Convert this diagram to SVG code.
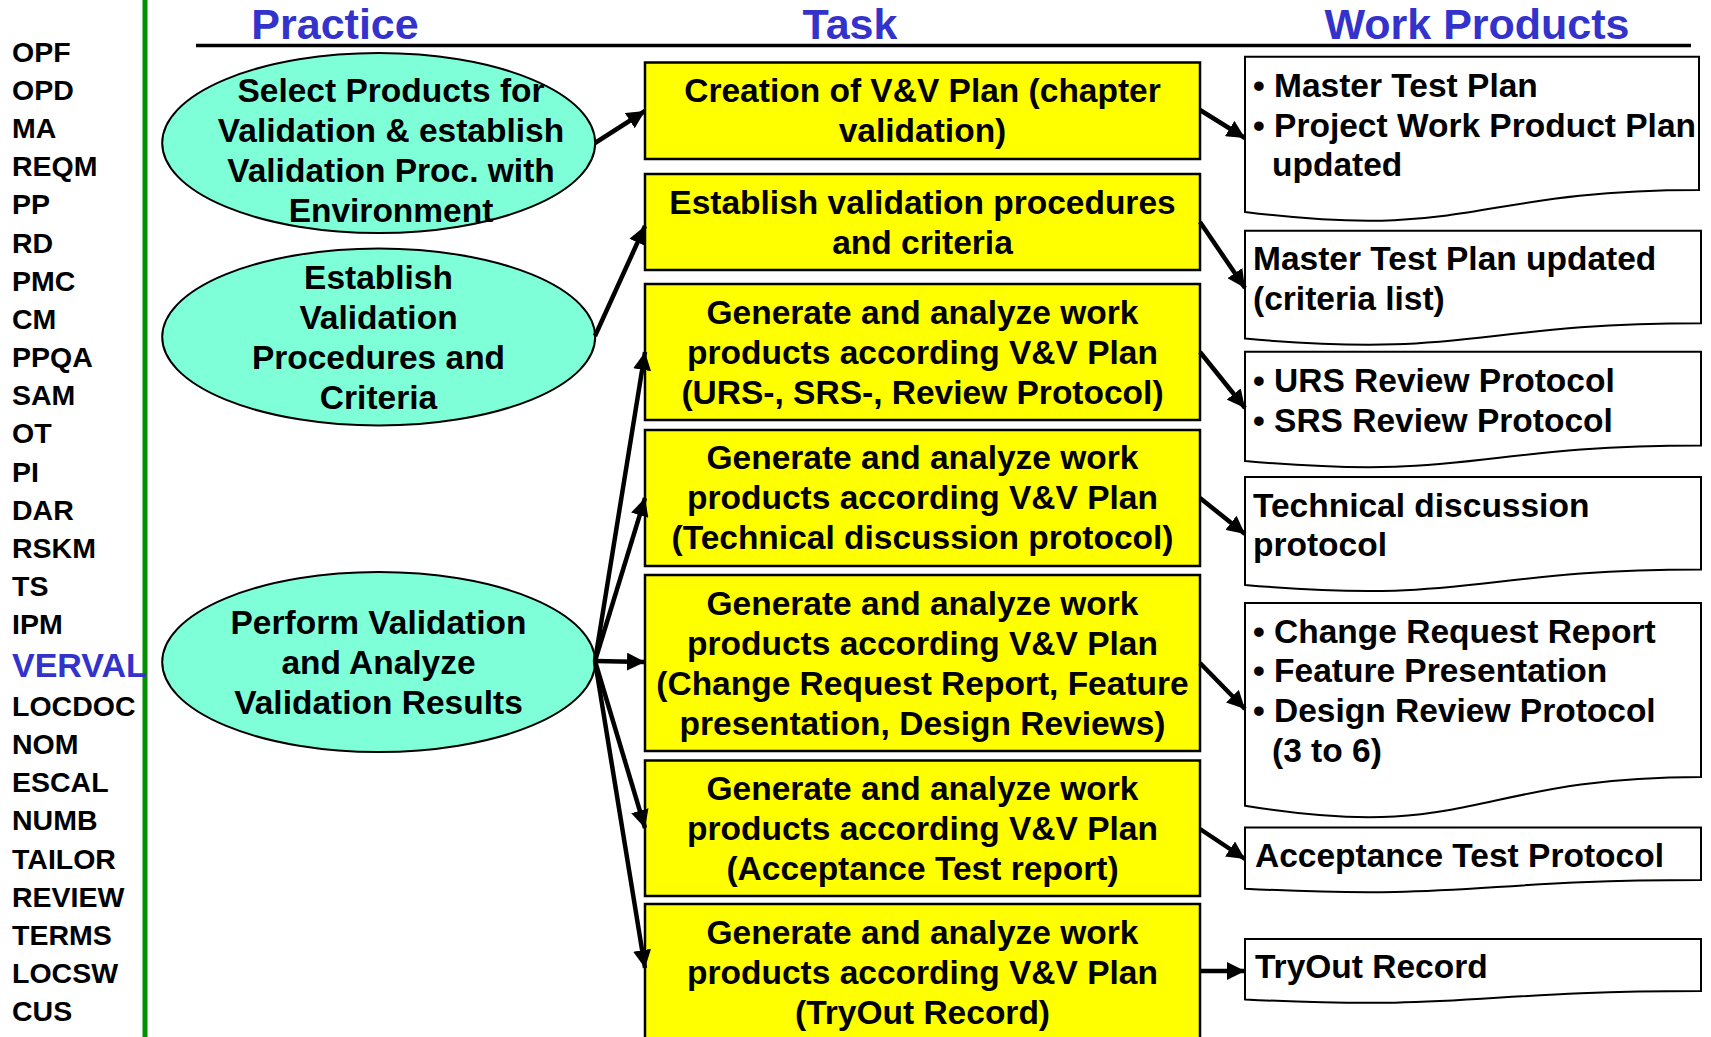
<svg xmlns="http://www.w3.org/2000/svg" width="1711" height="1037" viewBox="0 0 1711 1037">
<defs>
<style>
text{font-family:"Liberation Sans",Arial,sans-serif;font-weight:bold;}
.hdr{font-size:43px;fill:#3333cc;text-anchor:middle;}
.lst{font-size:28.5px;fill:#000;}
.cur{font-size:34px;fill:#3333cc;}
.t{font-size:33.5px;fill:#000;text-anchor:middle;}
.w{font-size:33.5px;fill:#000;}
.ell{fill:#7fffd8;stroke:#000;stroke-width:2;}
.box{fill:#ffff00;stroke:#000;stroke-width:2.5;}
.doc{fill:#fff;stroke:#000;stroke-width:2;}
.con{stroke:#000;stroke-width:4.5;fill:none;marker-end:url(#ah);}
</style>
<marker id="ah" viewBox="0 0 18 18" markerUnits="userSpaceOnUse" markerWidth="18" markerHeight="18" refX="18" refY="9" orient="auto">
<path d="M0,0 L18,9 L0,18 Z" fill="#000"/>
</marker>
</defs>
<rect x="0" y="0" width="1711" height="1037" fill="#fff"/>

<g id="sidebar">
<line x1="145" y1="0" x2="145" y2="1037" stroke="#009000" stroke-width="5"/>
<text class="lst" x="12" y="62">OPF</text>
<text class="lst" x="12" y="100">OPD</text>
<text class="lst" x="12" y="138">MA</text>
<text class="lst" x="12" y="176">REQM</text>
<text class="lst" x="12" y="214">PP</text>
<text class="lst" x="12" y="252.5">RD</text>
<text class="lst" x="12" y="290.5">PMC</text>
<text class="lst" x="12" y="329">CM</text>
<text class="lst" x="12" y="367">PPQA</text>
<text class="lst" x="12" y="405">SAM</text>
<text class="lst" x="12" y="443">OT</text>
<text class="lst" x="12" y="481.5">PI</text>
<text class="lst" x="12" y="519.5">DAR</text>
<text class="lst" x="12" y="557.5">RSKM</text>
<text class="lst" x="12" y="596">TS</text>
<text class="lst" x="12" y="634">IPM</text>
<text class="cur" x="12" y="676.5">VERVAL</text>
<text class="lst" x="12" y="716">LOCDOC</text>
<text class="lst" x="12" y="754">NOM</text>
<text class="lst" x="12" y="792">ESCAL</text>
<text class="lst" x="12" y="830">NUMB</text>
<text class="lst" x="12" y="868.5">TAILOR</text>
<text class="lst" x="12" y="906.5">REVIEW</text>
<text class="lst" x="12" y="945">TERMS</text>
<text class="lst" x="12" y="983">LOCSW</text>
<text class="lst" x="12" y="1021">CUS</text>
</g>

<g id="headers">
<text class="hdr" x="335" y="39">Practice</text>
<text class="hdr" x="850" y="39">Task</text>
<text class="hdr" x="1477" y="39">Work Products</text>
<line x1="196" y1="45.5" x2="1691" y2="45.5" stroke="#000" stroke-width="3.5"/>
</g>

<g id="practice1">
<ellipse class="ell" cx="378.7" cy="143" rx="216.5" ry="90"/>
<text class="t" x="391" y="101.5">Select Products for</text>
<text class="t" x="391" y="141.5">Validation &amp; establish</text>
<text class="t" x="391" y="181.5">Validation Proc. with</text>
<text class="t" x="391" y="221.5">Environment</text>
</g>
<g id="practice2">
<ellipse class="ell" cx="378.7" cy="337" rx="216.5" ry="88.5"/>
<text class="t" x="378.5" y="288.5">Establish</text>
<text class="t" x="378.5" y="328.5">Validation</text>
<text class="t" x="378.5" y="368.5">Procedures and</text>
<text class="t" x="378.5" y="408.5">Criteria</text>
</g>
<g id="practice3">
<ellipse class="ell" cx="378.7" cy="662" rx="216.5" ry="90"/>
<text class="t" x="378.5" y="634">Perform Validation</text>
<text class="t" x="378.5" y="674">and Analyze</text>
<text class="t" x="378.5" y="713.5">Validation Results</text>
</g>

<g id="task1">
<rect class="box" x="645" y="62.5" width="555" height="96.5"/>
<text class="t" x="922.5" y="102">Creation of V&amp;V Plan (chapter</text>
<text class="t" x="922.5" y="142">validation)</text>
</g>
<g id="task2">
<rect class="box" x="645" y="174" width="555" height="96"/>
<text class="t" x="922.5" y="213.5">Establish validation procedures</text>
<text class="t" x="922.5" y="253.5">and criteria</text>
</g>
<g id="task3">
<rect class="box" x="645" y="284" width="555" height="136"/>
<text class="t" x="922.5" y="323.5">Generate and analyze work</text>
<text class="t" x="922.5" y="363.5">products according V&amp;V Plan</text>
<text class="t" x="922.5" y="403.5">(URS-, SRS-, Review Protocol)</text>
</g>
<g id="task4">
<rect class="box" x="645" y="430" width="555" height="136"/>
<text class="t" x="922.5" y="469">Generate and analyze work</text>
<text class="t" x="922.5" y="509">products according V&amp;V Plan</text>
<text class="t" x="922.5" y="549">(Technical discussion protocol)</text>
</g>
<g id="task5">
<rect class="box" x="645" y="575" width="555" height="176"/>
<text class="t" x="922.5" y="615">Generate and analyze work</text>
<text class="t" x="922.5" y="655">products according V&amp;V Plan</text>
<text class="t" x="922.5" y="695">(Change Request Report, Feature</text>
<text class="t" x="922.5" y="735">presentation, Design Reviews)</text>
</g>
<g id="task6">
<rect class="box" x="645" y="760.5" width="555" height="135.5"/>
<text class="t" x="922.5" y="800">Generate and analyze work</text>
<text class="t" x="922.5" y="840">products according V&amp;V Plan</text>
<text class="t" x="922.5" y="880">(Acceptance Test report)</text>
</g>
<g id="task7">
<rect class="box" x="645" y="904" width="555" height="140"/>
<text class="t" x="922.5" y="944">Generate and analyze work</text>
<text class="t" x="922.5" y="984">products according V&amp;V Plan</text>
<text class="t" x="922.5" y="1024">(TryOut Record)</text>
</g>

<g id="wp1">
<path class="doc" d="M1245,56.7 H1699 V190 C1472,190 1472,240.8 1245,211.9 Z"/>
<text class="w" x="1253" y="96.5">• Master Test Plan</text>
<text class="w" x="1253" y="136.5">• Project Work Product Plan</text>
<text class="w" x="1272" y="176">updated</text>
</g>
<g id="wp2">
<path class="doc" d="M1245,230.7 H1701 V323.3 C1473,323.3 1473,358.6 1245,338.6 Z"/>
<text class="w" x="1253" y="270">Master Test Plan updated</text>
<text class="w" x="1253" y="309.5">(criteria list)</text>
</g>
<g id="wp3">
<path class="doc" d="M1245,351.7 H1701 V445.5 C1473,445.5 1473,481.3 1245,461 Z"/>
<text class="w" x="1253" y="392">• URS Review Protocol</text>
<text class="w" x="1253" y="432">• SRS Review Protocol</text>
</g>
<g id="wp4">
<path class="doc" d="M1245,477 H1701 V569.6 C1473,569.6 1473,604.9 1245,584.9 Z"/>
<text class="w" x="1253" y="516.5">Technical discussion</text>
<text class="w" x="1253" y="556">protocol</text>
</g>
<g id="wp5">
<path class="doc" d="M1245,603 H1701 V777 C1473,777 1473,843.3 1245,805.7 Z"/>
<text class="w" x="1253" y="642.5">• Change Request Report</text>
<text class="w" x="1253" y="682">• Feature Presentation</text>
<text class="w" x="1253" y="722">• Design Review Protocol</text>
<text class="w" x="1272" y="762">(3 to 6)</text>
</g>
<g id="wp6">
<path class="doc" d="M1245,827.5 H1701 V880 C1473,880 1473,900 1245,888.7 Z"/>
<text class="w" x="1255" y="867">Acceptance Test Protocol</text>
</g>
<g id="wp7">
<path class="doc" d="M1245,939 H1701 V990.9 C1473,990.9 1473,1010.7 1245,999.4 Z"/>
<text class="w" x="1255" y="977.5">TryOut Record</text>
</g>

<g id="connectors">
<line class="con" x1="595" y1="143" x2="645" y2="111"/>
<line class="con" x1="595" y1="336" x2="645" y2="226"/>
<line class="con" x1="595" y1="661" x2="645" y2="352"/>
<line class="con" x1="595" y1="661" x2="645" y2="498"/>
<line class="con" x1="595" y1="661" x2="645" y2="662"/>
<line class="con" x1="595" y1="661" x2="645" y2="828"/>
<line class="con" x1="595" y1="661" x2="645" y2="968"/>
<line class="con" x1="1200" y1="110" x2="1245" y2="138"/>
<line class="con" x1="1200" y1="222" x2="1245" y2="288"/>
<line class="con" x1="1200" y1="352" x2="1245" y2="408"/>
<line class="con" x1="1200" y1="498" x2="1245" y2="534"/>
<line class="con" x1="1200" y1="663" x2="1245" y2="709"/>
<line class="con" x1="1200" y1="829" x2="1245" y2="859"/>
<line class="con" x1="1200" y1="971" x2="1245" y2="971"/>
</g>
</svg>
